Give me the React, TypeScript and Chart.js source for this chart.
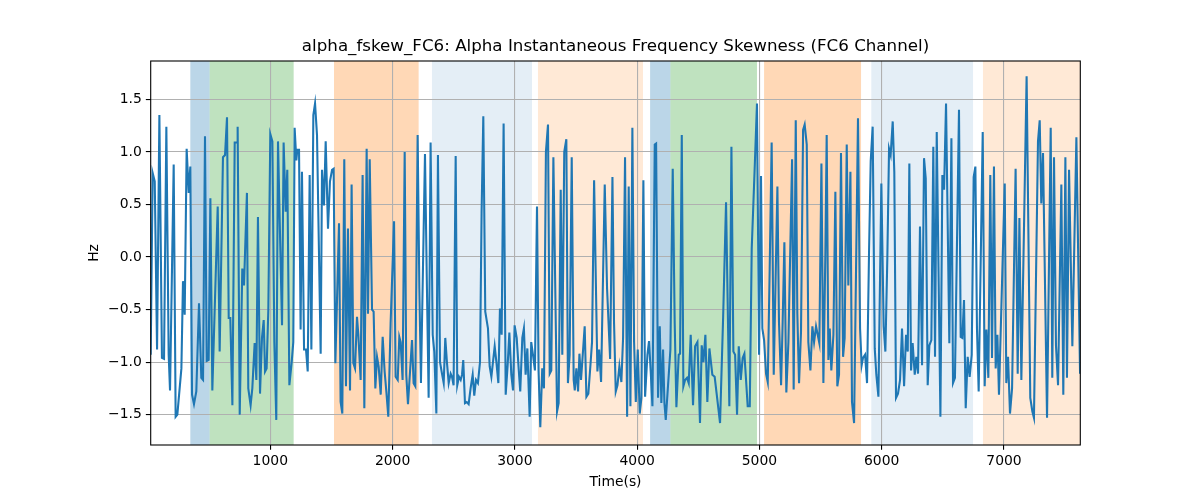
import React, { useEffect, useRef } from "react";
import { Chart, registerables } from "chart.js";

Chart.register(...registerables);

const times: number[] = [
  22, 38, 55, 74, 93, 114, 131, 150, 169, 180, 210, 226, 240, 273, 286, 300, 316, 333, 346, 360,
  376, 395, 417, 436, 450, 466, 480, 496, 510, 526, 570, 586, 613, 630, 646, 660, 673, 690,
  709, 728, 733, 750, 771, 785, 809, 820, 839, 853, 872, 886, 899, 916, 932, 946, 957, 970, 984,
  1000, 1017, 1033, 1049, 1063, 1082, 1096, 1109, 1126, 1139, 1156, 1175, 1188, 1199, 1213, 1221,
  1235, 1248, 1259, 1276, 1292, 1306, 1322, 1336, 1352, 1366, 1382,
  1412, 1423, 1439, 1453, 1472, 1488, 1505, 1518, 1532, 1562, 1575, 1589, 1605, 1619, 1635, 1652,
  1665, 1679, 1693, 1709, 1720, 1739, 1755, 1769, 1788, 1799, 1813, 1832, 1845, 1859, 1873, 1886,
  1903, 1919, 1935, 1949, 1965, 1984, 2012, 2025, 2042, 2055, 2066, 2082, 2099,
  2112, 2126, 2159, 2172, 2186, 2205, 2219, 2232, 2265, 2281, 2295, 2311, 2328, 2341, 2358, 2371,
  2388, 2404, 2418, 2431, 2445, 2459, 2475, 2486, 2499, 2516, 2529, 2543, 2557, 2568, 2578, 2592,
  2606, 2622, 2638, 2655, 2668, 2682, 2698, 2715, 2728, 2742, 2758, 2780,
  2794, 2808, 2835, 2849, 2865, 2878, 2892, 2908, 2925, 2941, 2955, 2971, 2985, 2998, 3015, 3031,
  3044, 3061, 3074, 3088, 3102, 3121, 3134, 3148, 3164, 3181, 3194, 3208, 3224, 3238, 3254, 3271,
  3285, 3298, 3315, 3345, 3358, 3375, 3388, 3404, 3421, 3434, 3448, 3465, 3481,
  3490, 3503, 3517, 3528, 3541, 3571, 3585, 3601, 3618, 3631, 3648, 3675, 3689, 3705, 3735, 3754,
  3779, 3798, 3811, 3825, 3839, 3855, 3871, 3885, 3901, 3918, 3931, 3945, 3961, 3975, 3989, 4005,
  4021, 4035, 4051, 4065, 4084, 4097, 4111, 4125, 4144, 4155, 4171, 4185,
  4198, 4212, 4223, 4234, 4272, 4291, 4307, 4321, 4340, 4351, 4365, 4378, 4392, 4408, 4422, 4438,
  4457, 4474, 4493, 4514, 4528, 4542, 4558, 4574, 4591, 4615, 4634, 4651, 4678, 4703, 4727, 4754,
  4771, 4787, 4801, 4817, 4831, 4847, 4863, 4877,
  4904, 4921, 4937, 4961, 4980, 4997, 5013, 5024, 5038, 5054, 5068, 5084, 5100, 5117, 5147, 5160,
  5177, 5190, 5204, 5220, 5237, 5267, 5280, 5297, 5310, 5324, 5340, 5357, 5370, 5387, 5400, 5417,
  5433, 5447, 5463, 5490, 5507, 5523, 5539, 5550, 5564, 5575,
  5588, 5605, 5621, 5637, 5651, 5667, 5684, 5697, 5714, 5727, 5744, 5757, 5774, 5806, 5823, 5836,
  5847, 5864, 5880, 5896, 5910, 5926, 5943, 5956, 5973, 5997, 6016, 6030, 6046, 6060, 6073, 6090,
  6103, 6117, 6133, 6150, 6166, 6183, 6199, 6213, 6226, 6240, 6253,
  6270, 6283, 6297, 6313, 6330, 6346, 6360, 6376, 6390, 6406, 6422, 6436, 6450, 6480, 6496, 6510,
  6526, 6553, 6570, 6583, 6599, 6632, 6646, 6659, 6673, 6687, 6703, 6719, 6736, 6752, 6766, 6779,
  6793, 6826, 6842, 6856, 6872, 6888, 6902, 6918, 6932, 6946,
  6959, 7006, 7019, 7033, 7049, 7066, 7095, 7112, 7126, 7142, 7185, 7215, 7232, 7245, 7278, 7292,
  7305, 7319, 7352, 7382, 7395, 7409, 7425, 7442, 7469, 7485, 7502, 7515, 7532, 7559, 7592, 7611,
  7622,
];

const values: number[] = [
  -0.93, 0.8, 0.72, -0.88, 1.35, -0.96, -0.97, 1.24, -0.93, -1.27, 0.88, -1.52, -1.5, -1.06, -0.23, -0.55, 1.03, 0.61, 0.86, -1.31,
  -1.4, -1.28, -0.44, -1.15, -1.17, 1.15, -0.99, -0.98, 0.56, -1.27, 0.48, -0.9, 0.95, 0.97, 1.33, -0.58, -0.58, -1.41,
  1.09, 1.09, 1.24, -1.5, -0.11, -0.27, 0.61, -1.25, -1.41, -1.25, -0.82, -1.17, 0.38, -1.3, -0.77, -0.6, -1.09, -1.06, -0.5,
  1.17, 1.1, -0.81, -1.55, 1.1, 0.08, -0.65, 1.09, 0.43, 0.83, -1.22, -1.0, -0.81, 1.23, 0.92, 1.02,
  1.02, -0.69, 0.81, -0.88, -0.88, -1.09, 0.78, -0.88, 1.35, 1.46, 1.16,
  -0.92, 0.83, 0.49, 1.1, 0.27, 0.72, 0.83, 0.84, -1.01, 0.32, -1.38, -1.49, 0.93, -1.23, 0.27, -1.27,
  0.69, -1.01, -1.06, -0.57, -0.74, -1.17, 0.78, -1.44, 1.03, -0.54, 0.93, -0.5, -0.52, -1.25, -0.95, -1.04,
  -1.31, -0.76, -1.09, -1.28, -1.52, -0.63, 0.34, -1.14, -1.17, -0.76, -0.81, -1.17, 1.0,
  -1.12, -1.4, -0.79, -1.2, -1.23, 1.16, -0.3, -1.2, 0.98, -0.3, -1.34, 1.09, -0.74, -0.9, -1.49, 0.97,
  -1.0, -1.11, -1.2, -0.77, -1.01, -1.2, -1.11, -1.14, -1.22, 0.96, -1.22, -1.14, -1.17, -1.12, -0.98, -1.39,
  -1.38, -1.4, -1.25, -1.12, -1.32, -1.17, -1.2, -1.0, 0.43, 1.34, -0.52, -0.68,
  -1.04, -1.14, -0.85, -1.0, -1.2, -0.49, -0.74, 1.27, -1.31, -1.03, -0.72, -1.12, -1.27, -0.65, -0.77, -1.06,
  -1.28, -0.77, -0.68, -1.12, -0.87, -1.52, -0.81, -0.93, -1.08, 0.48, -1.09, -1.62, -1.06, -1.25, 1.0, 1.26,
  -1.11, -1.08, 0.95, -1.47, -1.39, 0.64, -0.93, 1.0, 1.12, -1.2, -0.93, 0.95, -1.17,
  -1.27, -1.06, -1.28, -0.92, -1.17, -0.66, -1.33, -1.3, -1.03, -0.81, 0.73, -1.09, -0.88, -1.19, 0.69, -0.3,
  -0.97, 0.76, -0.62, -1.28, -1.22, -1.04, -1.19, -0.77, 0.95, -1.52, 0.67, -1.42, 1.23, -0.81, -1.38, -0.88,
  -1.49, -1.34, 0.73, -1.33, -0.93, -0.8, -1.09, -1.42, 1.07, 1.08, -1.34, -0.66,
  -1.39, -0.88, -1.39, -1.55, -0.88, 0.84, -0.62, -1.43, -0.93, -0.92, 1.16, -1.23, -1.17, -1.15, -1.2, -0.74,
  -1.41, -0.85, -0.81, -1.58, -0.84, -1.0, -0.74, -1.38, -0.87, -1.12, -1.14, -1.31, -1.58, -0.58, 0.52, -1.42,
  1.05, -0.9, -0.93, -1.5, -0.85, -1.17, -0.96, -0.92,
  -1.42, -1.42, 0.08, 0.84, 1.46, -0.93, 0.77, -0.68, -0.79, -1.11, -1.19, -0.11, 1.09, -1.12, 0.67, -0.62,
  -1.22, -0.62, 0.14, -1.29, -0.81, 0.93, -1.26, 1.3, -0.54, -1.2, -0.71, 1.21, 1.26, 1.07, -0.81, -1.08,
  -0.66, -0.81, -0.66, -0.82, 0.89, -1.2, 0.02, 1.16, -0.98, -0.68,
  -1.08, -0.74, 0.62, -1.23, -1.12, 0.99, -0.95, -0.77, 1.07, -0.27, 0.81, -1.38, -1.58, 1.32, -0.68, -1.03,
  -0.96, -0.93, -1.2, 0.02, 0.91, 1.24, -0.87, -1.12, -1.33, 0.7, -0.66, -0.9, -0.01, 1.03, 0.97, 1.29,
  0.81, -1.34, -1.3, -1.17, -0.68, -1.23, -0.74, -0.9, 0.89, -1.08, -0.82,
  -1.12, -0.95, -1.11, 0.29, -1.03, 0.94, 0.75, -1.22, -0.84, -0.79, 1.05, -0.95, 1.19, -1.52, 0.78, 0.64,
  1.46, -0.82, 1.13, -1.2, -1.15, 1.4, -0.76, -0.77, -0.41, -1.44, -0.95, -1.14, -0.93, 0.76, 0.86, -0.68,
  -1.28, 1.19, -1.23, -0.69, -1.15, 0.78, -0.96, 0.86, -1.06, -0.74,
  -1.31, 0.7, -1.2, -0.95, -1.49, -1.25, 0.84, -1.11, 0.37, -1.17, 1.72, -1.34, -1.47, -1.53, 1.1, 1.3,
  0.51, 0.99, -1.53, 1.23, -1.15, 0.95, -0.84, -1.22, 0.69, -1.31, 0.95, -1.15, 0.83, -0.85, 1.14, -0.3,
  -1.11,
];

const xTicks: number[] = [1000, 2000, 3000, 4000, 5000, 6000, 7000];
const yTicks: number[] = [-1.5, -1.0, -0.5, 0.0, 0.5, 1.0, 1.5];

const spanStarts: number[] = [346, 504, 1521, 2322, 3189, 4106, 4272, 5038, 5915, 6828];
const spanEnds: number[] = [504, 1191, 2213, 3140, 4048, 4272, 4980, 5831, 6747, 7624];
const spanKinds: string[] = [
  "blue", "green", "orange", "lightblue", "lightorange",
  "blue", "green", "orange", "lightblue", "lightorange",
];

const spanColors: Record<string, string> = {
  blue: "rgba(31,119,180,0.3)",
  green: "rgba(44,160,44,0.3)",
  orange: "rgba(255,127,14,0.3)",
  lightblue: "rgba(31,119,180,0.12)",
  lightorange: "rgba(255,127,14,0.17)",
};

const TITLE = "alpha_fskew_FC6: Alpha Instantaneous Frequency Skewness (FC6 Channel)";
const FONT = "'DejaVu Sans', sans-serif";

export default function App() {
  const ref = useRef<HTMLCanvasElement | null>(null);

  useEffect(() => {
    if (!ref.current) return;
    const spanPlugin = {
      id: "spans",
      beforeDraw(chart: any) {
        const { ctx, chartArea, scales } = chart;
        const x = scales.x;
        ctx.save();
        ctx.beginPath();
        ctx.rect(chartArea.left, chartArea.top, chartArea.right - chartArea.left, chartArea.bottom - chartArea.top);
        ctx.clip();
        for (let i = 0; i < spanStarts.length; i++) {
          const x0 = x.getPixelForValue(spanStarts[i]);
          const x1 = x.getPixelForValue(spanEnds[i]);
          ctx.fillStyle = spanColors[spanKinds[i]];
          ctx.fillRect(x0, chartArea.top, x1 - x0, chartArea.bottom - chartArea.top);
        }
        ctx.restore();
      },
      afterDraw(chart: any) {
        const { ctx, chartArea } = chart;
        ctx.save();
        ctx.strokeStyle = "#000";
        ctx.lineWidth = 1.1;
        ctx.strokeRect(chartArea.left, chartArea.top, chartArea.right - chartArea.left, chartArea.bottom - chartArea.top);
        ctx.fillStyle = "#000";
        ctx.font = `16.7px ${FONT}`;
        ctx.textAlign = "center";
        ctx.textBaseline = "middle";
        ctx.fillText(TITLE, (chartArea.left + chartArea.right) / 2, 47);
        ctx.restore();
      },
    };

    const fmt = (v: number) => {
      const s = Math.abs(v).toFixed(1);
      return v < 0 ? "\u2212" + s : s;
    };

    const chart = new Chart(ref.current, {
      type: "line",
      data: {
        datasets: [
          {
            data: times.map((t, i) => ({ x: t, y: values[i] })),
            borderColor: "#1f77b4",
            borderWidth: 2.08,
            pointRadius: 0,
            tension: 0,
            fill: false,
          },
        ],
      },
      options: {
        animation: false,
        responsive: false,
        devicePixelRatio: 1,
        layout: { padding: { left: 0, right: 119.7, top: 61, bottom: 0 } },
        plugins: { legend: { display: false }, tooltip: { enabled: false } },
        scales: {
          x: {
            type: "linear",
            min: 22,
            max: 7624,
            afterBuildTicks: (s: any) => {
              s.ticks = xTicks.map((v) => ({ value: v }));
            },
            afterFit: (s: any) => {
              s.height = 55;
            },
            ticks: {
              callback: (v: any) => String(v),
              font: { family: FONT, size: 13.9 },
              color: "#000",
              padding: 3.5,
              maxRotation: 0,
              autoSkip: false,
            },
            grid: { color: "#b0b0b0", lineWidth: 1.1, tickLength: 4.86, tickColor: "#000", tickWidth: 1.1 },
            border: { display: false },
            title: {
              display: true,
              text: "Time(s)",
              color: "#000",
              font: { family: FONT, size: 13.9 },
              padding: { top: 0, bottom: 9 },
            },
          },
          y: {
            type: "linear",
            min: -1.789,
            max: 1.865,
            afterBuildTicks: (s: any) => {
              s.ticks = yTicks.map((v) => ({ value: v }));
            },
            afterFit: (s: any) => {
              s.width = 150.7;
            },
            ticks: {
              callback: (v: any) => fmt(Number(v)),
              font: { family: FONT, size: 13.9 },
              color: "#000",
              padding: 4,
              autoSkip: false,
            },
            grid: { color: "#b0b0b0", lineWidth: 1.1, tickLength: 4.86, tickColor: "#000", tickWidth: 1.1 },
            border: { display: false },
            title: {
              display: true,
              text: "Hz",
              color: "#000",
              font: { family: FONT, size: 13.9 },
              padding: { top: 86, bottom: 0 },
            },
          },
        },
      },
      plugins: [spanPlugin],
    } as any);
    return () => chart.destroy();
  }, []);

  return (
    <div style={{ position: "absolute", left: 0, top: 0, width: 1200, height: 500, background: "#fff" }}>
      <canvas ref={ref} width={1200} height={500} style={{ display: "block" }} />
    </div>
  );
}
